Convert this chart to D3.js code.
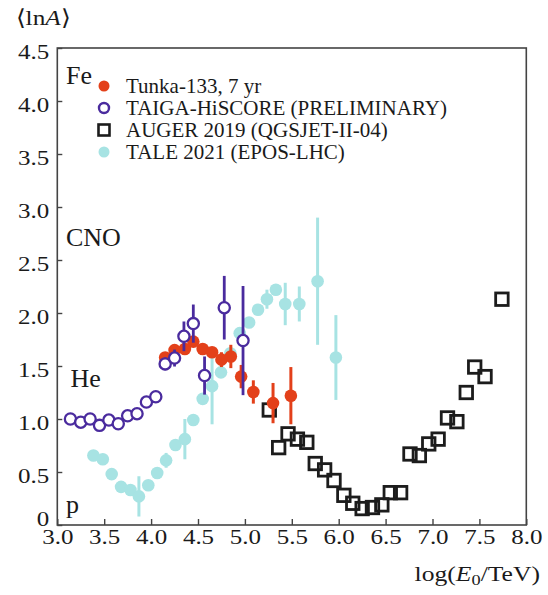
<!DOCTYPE html>
<html>
<head>
<meta charset="utf-8">
<script src="https://cdn.jsdelivr.net/npm/d3@7"></script>
<style>
  body { margin: 0; background: #fff; }
  svg { display: block; }
</style>
</head>
<body>
<div id="chart"></div>
<script>
// ---- data ----
var tunkaE   = [4.15, 4.25, 4.36, 4.45, 4.55, 4.65, 4.75, 4.85, 4.96, 5.09, 5.30, 5.49];
var tunkaLnA = [1.58, 1.65, 1.66, 1.73, 1.66, 1.63, 1.56, 1.59, 1.40, 1.255, 1.15, 1.22];
var tunkaErr = [0.04, 0.05, 0.05, 0.04, 0.04, 0.05, 0.07, 0.11, 0.11, 0.11, 0.19, 0.27];

var taigaE   = [3.14, 3.25, 3.35, 3.45, 3.55, 3.65, 3.75, 3.85, 3.95, 4.05, 4.15, 4.25, 4.35, 4.45, 4.57, 4.78, 4.98];
var taigaLnA = [1.00, 0.97, 1.00, 0.94, 0.99, 0.955, 1.03, 1.05, 1.16, 1.21, 1.52, 1.575, 1.78, 1.90, 1.41, 2.05, 1.74];
var taigaErr = [0, 0, 0, 0, 0, 0, 0, 0, 0, 0, 0.06, 0.08, 0.14, 0.18, 0.18, 0.30, 0.515];

var augerE   = [5.26, 5.36, 5.46, 5.56, 5.66, 5.75, 5.85, 5.95, 6.055, 6.15, 6.25, 6.36, 6.46, 6.55, 6.66,
                6.76, 6.86, 6.96, 7.06, 7.16, 7.26, 7.36, 7.45, 7.56, 7.74];
var augerLnA = [1.085, 0.73, 0.86, 0.81, 0.78, 0.58, 0.52, 0.42, 0.28, 0.205, 0.155, 0.165, 0.19, 0.305, 0.305,
                0.67, 0.655, 0.765, 0.81, 1.01, 0.975, 1.25, 1.49, 1.40, 2.13];

var taleE   = [3.385, 3.485, 3.58, 3.68, 3.78, 3.87, 3.97, 4.065, 4.16, 4.26, 4.36, 4.45, 4.55, 4.65, 4.745,
               4.845, 4.945, 5.045, 5.14, 5.235, 5.33, 5.43, 5.58, 5.775, 5.97];
var taleLnA = [0.655, 0.62, 0.48, 0.36, 0.33, 0.27, 0.375, 0.49, 0.61, 0.755, 0.81, 0.99, 1.19, 1.31, 1.44,
               1.62, 1.81, 1.91, 2.03, 2.13, 2.22, 2.085, 2.085, 2.30, 1.58];
var taleErr = [0.04, 0, 0, 0, 0, 0.19, 0, 0, 0.07, 0, 0.19, 0, 0, 0.36, 0,
               0, 0, 0, 0, 0.09, 0, 0.20, 0.165, 0.60, 0.40];

var xTicks = [3.0, 3.5, 4.0, 4.5, 5.0, 5.5, 6.0, 6.5, 7.0, 7.5, 8.0];
var yTicks = [0, 0.5, 1.0, 1.5, 2.0, 2.5, 3.0, 3.5, 4.0, 4.5];

var legendNames = ["Tunka-133, 7 yr", "TAIGA-HiSCORE (PRELIMINARY)", "AUGER 2019 (QGSJET-II-04)", "TALE 2021 (EPOS-LHC)"];
var massLabels = ["Fe", "CNO", "He", "p"];
var massLabelY = [4.16, 2.63, 1.30, 0.11];

// ---- setup ----
var width = 548, height = 595;
var serif = "'Liberation Serif', 'Times New Roman', serif";
var red = "#e3401a", purple = "#4a2b9e", cyan = "#a7e3e3", black = "#1c1c1c";
var stretch = 1.25;

var x = d3.scaleLinear().domain([3, 8]).range([57.3, 526.3]);
var y = d3.scaleLinear().domain([0, 4.5]).range([525, 48]);

var svg = d3.select("#chart").append("svg")
    .attr("width", width)
    .attr("height", height);

svg.append("rect").attr("width", width).attr("height", height).attr("fill", "#fff");

// axes (ticks point inward)
var fmt = d3.format(".1f");

var gx = svg.append("g")
    .attr("transform", "translate(0," + y(0) + ")")
    .call(d3.axisBottom(x).tickValues(xTicks).tickSize(-6).tickFormat(fmt));

var gy = svg.append("g")
    .attr("transform", "translate(" + x(3) + ",0)")
    .call(d3.axisLeft(y).tickValues(yTicks).tickSize(-5)
        .tickFormat(function (d) { return d === 0 ? "0" : fmt(d); }));

[gx, gy].forEach(function (g) {
    g.select(".domain").remove();
    g.selectAll(".tick line").attr("stroke", "#444").attr("stroke-width", 1.4);
    g.selectAll(".tick text")
        .attr("font-family", serif)
        .attr("font-size", 20)
        .attr("fill", "#1a1a1a")
        .attr("dy", null)
        .attr("transform", "scale(" + stretch + ",1)");
});

gx.selectAll(".tick text").attr("y", 19.5);
gy.selectAll(".tick text")
    .attr("x", -8 / stretch)
    .attr("y", function (d) { return d === 0 ? 0.7 : 10.5; });

// frame
svg.append("rect")
    .attr("x", x(3)).attr("y", y(4.5))
    .attr("width", x(8) - x(3)).attr("height", y(0) - y(4.5))
    .attr("fill", "none").attr("stroke", "#444").attr("stroke-width", 1.6);

// axis titles
var yt = svg.append("text")
    .attr("transform", "translate(16,25) scale(1.15,1)")
    .attr("font-family", serif).attr("font-size", 22).attr("fill", "#1a1a1a");
yt.append("tspan").text("\u27E8ln");
yt.append("tspan").attr("font-style", "italic").text("A");
yt.append("tspan").text("\u27E9");

var xt = svg.append("text")
    .attr("transform", "translate(540,581) scale(1.22,1)")
    .attr("text-anchor", "end")
    .attr("font-family", serif).attr("font-size", 21).attr("fill", "#1a1a1a");
xt.append("tspan").text("log(");
xt.append("tspan").attr("font-style", "italic").text("E");
xt.append("tspan").attr("font-size", 15).attr("dy", 4).text("0");
xt.append("tspan").attr("dy", -4).text("/TeV)");

// mass labels inside the plot
svg.selectAll("text.mass")
    .data(massLabels)
    .enter().append("text")
    .attr("class", "mass")
    .attr("x", function (d) { return d === "He" ? 70.5 : 66; })
    .attr("y", function (d, i) { return y(massLabelY[i]); })
    .attr("font-family", serif).attr("font-size", 26).attr("fill", "#1a1a1a")
    .text(function (d) { return d; });

// ---- data marks ----
function errBars(cls, E, V, Err, color, w) {
    var pts = E.map(function (e, i) { return { e: e, v: V[i], err: Err[i] }; })
        .filter(function (d) { return d.err > 0; });
    svg.append("g").selectAll("line." + cls)
        .data(pts).enter().append("line")
        .attr("x1", function (d) { return x(d.e); })
        .attr("x2", function (d) { return x(d.e); })
        .attr("y1", function (d) { return y(d.v - d.err); })
        .attr("y2", function (d) { return y(d.v + d.err); })
        .attr("stroke", color).attr("stroke-width", w);
}

function zip(E, V) {
    return E.map(function (e, i) { return { e: e, v: V[i] }; });
}

// AUGER squares
var sq = 12.5;
svg.append("g").selectAll("rect")
    .data(zip(augerE, augerLnA)).enter().append("rect")
    .attr("x", function (d) { return x(d.e) - sq / 2; })
    .attr("y", function (d) { return y(d.v) - sq / 2; })
    .attr("width", sq).attr("height", sq)
    .attr("fill", "none").attr("stroke", black).attr("stroke-width", 2.8);

// TALE
errBars("tale", taleE, taleLnA, taleErr, cyan, 3);
svg.append("g").selectAll("circle")
    .data(zip(taleE, taleLnA)).enter().append("circle")
    .attr("cx", function (d) { return x(d.e); })
    .attr("cy", function (d) { return y(d.v); })
    .attr("r", 6.3).attr("fill", cyan);

// Tunka-133
errBars("tunka", tunkaE, tunkaLnA, tunkaErr, red, 3);
svg.append("g").selectAll("circle")
    .data(zip(tunkaE, tunkaLnA)).enter().append("circle")
    .attr("cx", function (d) { return x(d.e); })
    .attr("cy", function (d) { return y(d.v); })
    .attr("r", 6.3).attr("fill", red);

// TAIGA-HiSCORE
errBars("taiga", taigaE, taigaLnA, taigaErr, purple, 2.8);
svg.append("g").selectAll("circle")
    .data(zip(taigaE, taigaLnA)).enter().append("circle")
    .attr("cx", function (d) { return x(d.e); })
    .attr("cy", function (d) { return y(d.v); })
    .attr("r", 5.6).attr("fill", "#fff")
    .attr("stroke", purple).attr("stroke-width", 2.3);

// ---- legend ----
var leg = svg.append("g");
var lx = 104, ly0 = 86, ldy = 22;

leg.append("circle").attr("cx", lx).attr("cy", ly0).attr("r", 5.5).attr("fill", red);
leg.append("circle").attr("cx", lx).attr("cy", ly0 + ldy).attr("r", 5)
    .attr("fill", "#fff").attr("stroke", purple).attr("stroke-width", 2.4);
leg.append("rect").attr("x", lx - 5.5).attr("y", ly0 + 2 * ldy - 5.5).attr("width", 11).attr("height", 11)
    .attr("fill", "none").attr("stroke", black).attr("stroke-width", 2.6);
leg.append("circle").attr("cx", lx).attr("cy", ly0 + 3 * ldy).attr("r", 5.5).attr("fill", cyan);

leg.selectAll("text")
    .data(legendNames).enter().append("text")
    .attr("x", 126)
    .attr("y", function (d, i) { return ly0 + i * ldy + 6.5; })
    .attr("font-family", serif).attr("font-size", 21).attr("fill", "#1a1a1a")
    .text(function (d) { return d; });
</script>
</body>
</html>
